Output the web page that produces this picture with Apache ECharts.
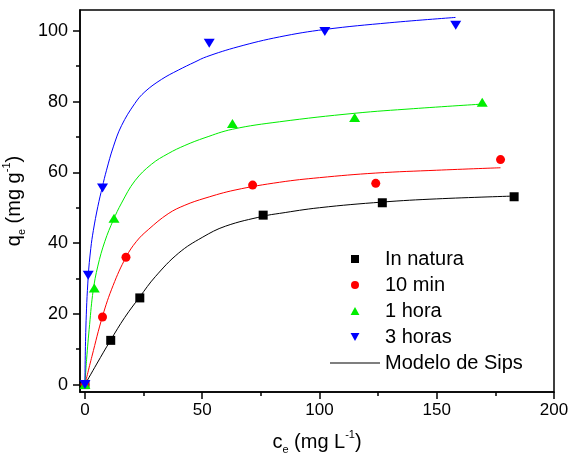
<!DOCTYPE html>
<html>
<head>
<meta charset="utf-8">
<script src="https://cdn.jsdelivr.net/npm/echarts@6/dist/echarts.min.js"></script>
<style>html,body{margin:0;padding:0;background:#fff;}#c{width:570px;height:455px;}</style>
</head>
<body>
<div id="c"></div>
<script>
// ---- data ----
const xTicks = [0, 50, 100, 150, 200];
const xMinorTicks = [25, 75, 125, 175];
const yTicks = [0, 20, 40, 60, 80, 100];
const yMinorTicks = [10, 30, 50, 70, 90];

const seriesNames = ['In natura', '10 min', '1 hora', '3 horas'];
const modelName = 'Modelo de Sips';

const ptsNatura = [[0,0],[11,12.5],[23.4,24.5],[76,47.9],[126.8,51.4],[183,53.1]];
const pts10min  = [[0,0],[7.5,19.1],[17.5,36.0],[71.5,56.4],[124,56.9],[177.2,63.6]];
const pts1hora  = [[0,0],[4,27.3],[12.4,47.0],[62.9,73.8],[115,75.5],[169.4,79.8]];
const pts3horas = [[0,0],[1.4,30.9],[7.5,55.6],[53,96.5],[102.3,99.8],[158.1,101.6]];

const sipsNatura = [[0,0],[5,5.8],[10.9,12.5],[17,19],[23.4,24.8],[30,30.5],[40,37.2],[50,41.6],[60,44.8],[76,47.6],[83,48.4],[100,50],[126.8,51.6],[150,52.5],[183,53.3]];
const sips10min  = [[0,0],[3,8],[7.5,19.3],[12,28],[17.5,36],[22,40.5],[27,43.8],[35.5,48.3],[42.6,50.7],[51.2,52.7],[64,55],[83,57.2],[100,58.5],[124,59.8],[150,60.6],[177.2,61.3]];
const sips1hora  = [[0,0],[0.7,7],[2,17],[3.5,26.5],[5.5,33.5],[8.5,40.5],[12.1,46.5],[15.6,51.3],[21.3,57.6],[28.4,62.3],[35.5,65.3],[42.6,67.6],[51.2,69.8],[63,72.2],[83,74.3],[115,76.7],[140,78],[169.4,79.3]];
const sips3horas = [[0,0],[0.4,16],[1.4,30.5],[2.5,38.5],[3.6,43.6],[5.5,50.3],[7.4,55.8],[9.2,60.6],[12.1,67.2],[15.6,73.2],[21.3,79.5],[25.6,82.8],[32.7,86.3],[39.8,88.9],[46.9,91.2],[51.9,92.7],[65.3,95.5],[83,98.3],[102.3,100.4],[130,102.3],[158,103.8]];

const colors = ['#000000', '#ff0000', '#00ee00', '#0000ff'];

// ---- chart ----
const FONT = '"Liberation Sans", Arial, sans-serif';
const chart = echarts.init(document.getElementById('c'), null, {renderer: 'canvas'});

const xMin = -2.1, xMax = 200, yMin = -2.1, yMax = 105.9;

const richName = {
  b: {fontSize: 20, fontFamily: FONT, color: '#000', lineHeight: 26, verticalAlign: 'middle'},
  sub: {fontSize: 11, fontFamily: FONT, color: '#000', lineHeight: 12, verticalAlign: 'bottom'},
  sup: {fontSize: 11, fontFamily: FONT, color: '#000', lineHeight: 12, verticalAlign: 'top'}
};

const symbols = ['rect', 'circle', 'triangle', 'path://M0,0L10,0L5,9Z'];
const symbolSizes = [9, 9, [11, 9], [11, 9]];
const legendIcons = [
  'path://M0,0H10V10H0Z',
  'circle',
  'path://M5,0L10,9L0,9Z',
  'path://M0,0L10,0L5,9Z'
];
const pts = [ptsNatura, pts10min, pts1hora, pts3horas];
const curves = [sipsNatura, sips10min, sips1hora, sips3horas];

const series = [];
curves.forEach((d, i) => {
  series.push({
    name: modelName,
    type: 'line',
    data: d,
    smooth: 0.4,
    showSymbol: false,
    symbol: 'none',
    lineStyle: {color: colors[i], width: 1},
    itemStyle: {color: colors[i]},
    z: 2,
    silent: true
  });
});
pts.forEach((d, i) => {
  series.push({
    name: seriesNames[i],
    type: 'scatter',
    data: d,
    symbol: symbols[i],
    symbolSize: symbolSizes[i],
    itemStyle: {color: colors[i], opacity: 1},
    z: 5,
    silent: true
  });
});

const legendData = seriesNames.map((n, i) => ({name: n, icon: legendIcons[i], itemStyle: {color: colors[i]}}));
legendData.push({name: modelName, icon: 'path://M0,0H50V1H0Z', itemStyle: {color: '#000'}});

chart.setOption({
  animation: false,
  backgroundColor: '#fff',
  grid: {left: 80, right: 16, top: 10, bottom: 63, containLabel: false, outerBoundsMode: 'none',
         show: true, borderColor: '#000', borderWidth: 1.5, backgroundColor: 'transparent'},
  legend: {
    orient: 'vertical',
    left: 325, top: 244,
    itemWidth: 50, itemHeight: 8, itemGap: 6, itemTextGap: 5,
    textStyle: {fontSize: 20, fontFamily: FONT, color: '#000', lineHeight: 20},
    data: legendData,
    selectedMode: false
  },
  xAxis: [{
    type: 'value', min: xMin, max: xMax, position: 'bottom',
    name: '{b|c}{sub|e}{b| (mg L}{sup|-1}{b|)}',
    nameLocation: 'middle', nameGap: 37,
    nameTextStyle: {rich: richName},
    axisLine: {show: true, onZero: false, lineStyle: {color: '#000', width: 1.5}},
    axisTick: {show: true, inside: false, length: 7, customValues: xTicks, lineStyle: {color: '#000', width: 1.5}},
    axisLabel: {show: true, customValues: xTicks, margin: 10, fontSize: 17, fontFamily: FONT, color: '#000'},
    splitLine: {show: false}
  }, {
    type: 'value', min: xMin, max: xMax, position: 'bottom',
    axisLine: {show: false, onZero: false},
    axisTick: {show: true, inside: false, length: 4, customValues: xMinorTicks, lineStyle: {color: '#000', width: 1.5}},
    axisLabel: {show: false},
    splitLine: {show: false}
  }],
  yAxis: [{
    type: 'value', min: yMin, max: yMax, position: 'left',
    name: '{b|q}{sub|e}{b| (mg g}{sup|-1}{b|)}',
    nameLocation: 'middle', nameGap: 44, nameRotate: 90,
    nameTextStyle: {rich: richName},
    axisLine: {show: true, onZero: false, lineStyle: {color: '#000', width: 1.5}},
    axisTick: {show: true, inside: false, length: 7, customValues: yTicks, lineStyle: {color: '#000', width: 1.5}},
    axisLabel: {show: true, customValues: yTicks, margin: 12, fontSize: 18, fontFamily: FONT, color: '#000'},
    splitLine: {show: false}
  }, {
    type: 'value', min: yMin, max: yMax, position: 'left',
    axisLine: {show: false, onZero: false},
    axisTick: {show: true, inside: false, length: 4, customValues: yMinorTicks, lineStyle: {color: '#000', width: 1.5}},
    axisLabel: {show: false},
    splitLine: {show: false}
  }],
  series: series
});
</script>
</body>
</html>
